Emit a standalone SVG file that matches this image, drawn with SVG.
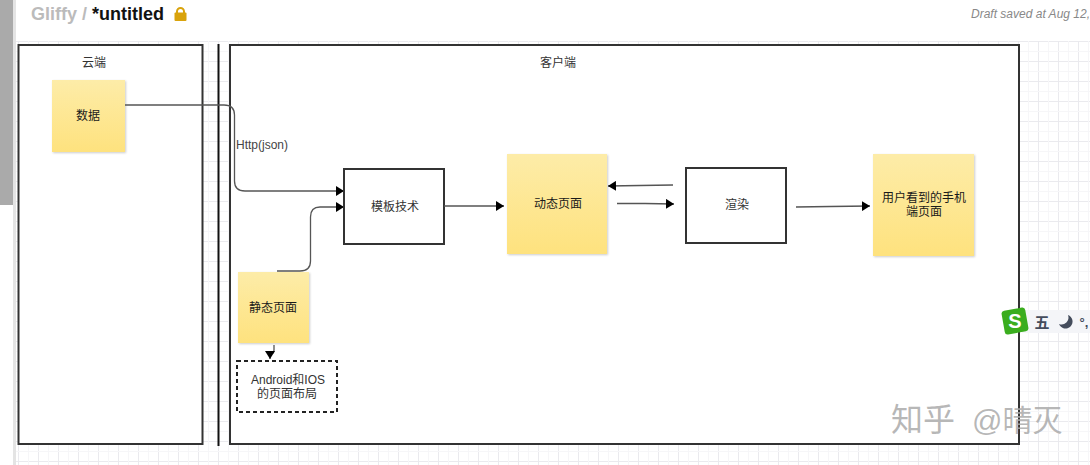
<svg xmlns="http://www.w3.org/2000/svg" width="1090" height="465" viewBox="0 0 1090 465">
<style>
text{font-family:"Liberation Sans","Noto Sans CJK SC",sans-serif;font-size:12px;fill:#333;text-anchor:middle}
.frame{fill:#fff;stroke:#333;stroke-width:2}
.note{fill:url(#noteFill);filter:url(#soft)}
.dark{fill:#1a1a1a}
.conn{fill:none;stroke:#555;stroke-width:1.3;marker-end:url(#arrow)}
</style>
<defs>
<pattern id="grid" width="20" height="20" patternUnits="userSpaceOnUse" x="-2" y="1">
<path d="M0 .5H20M.5 0V20" fill="none" stroke="#eaeaee" stroke-width="1"/>
<path d="M0 10.5H20M10.5 0V20" fill="none" stroke="#f6f6f8" stroke-width="1"/>
</pattern>
<linearGradient id="noteFill" x1="0" y1="0" x2="0" y2="1">
<stop offset="0" stop-color="#fdeca8"/><stop offset="1" stop-color="#fee27e"/>
</linearGradient>
<filter id="soft" x="-10%" y="-10%" width="120%" height="120%">
<feDropShadow dx="1" dy="1" stdDeviation="1" flood-color="#000" flood-opacity=".2"/>
</filter>
<marker id="arrow" markerUnits="userSpaceOnUse" markerWidth="9" markerHeight="10" refX="8" refY="5" orient="auto">
<path d="M0 0L8 5L0 10Z" fill="#000"/>
</marker>
</defs>

<rect width="1090" height="465" fill="#fff"/>
<rect x="16" y="41" width="1074" height="424" fill="url(#grid)"/>
<rect x="0" y="0" width="13" height="205" fill="#aaa"/>
<rect x="13" y="0" width="3" height="465" fill="#e4e4e4"/>

<g id="header">
<text x="31" y="20" style="font-size:18px;font-weight:700;fill:#bbb;text-anchor:start">Gliffy /</text>
<text x="92" y="20" style="font-size:18px;font-weight:700;fill:#111;text-anchor:start">*untitled</text>
<path d="M177 13V11.500a3.500 3.500 0 0 1 7 0V13" fill="none" stroke="#d9a30c" stroke-width="2"/>
<rect x="174.500" y="12.500" width="12" height="8.500" rx="1" fill="#d9a30c"/>
<text x="1090" y="18" style="font-size:12px;font-style:italic;fill:#888;text-anchor:end">Draft saved at Aug 12,</text>
</g>

<g id="cloud"><rect class="frame" x="18.500" y="45" width="184" height="399"/><text x="94" y="67">云端</text></g>
<g id="divider"><path d="M218.500 44V446" stroke="#111" stroke-width="2"/></g>
<g id="client"><rect class="frame" x="230" y="45" width="789" height="399"/><text x="558" y="67">客户端</text></g>

<g id="data"><rect class="note" x="52" y="80" width="73" height="72"/><text class="dark" x="88" y="120">数据</text></g>
<g id="template"><rect class="frame" x="344" y="169" width="100" height="75"/><text x="395" y="211">模板技术</text></g>
<g id="dynamic"><rect class="note" x="507" y="154" width="100" height="100"/><text class="dark" x="558" y="208">动态页面</text></g>
<g id="render"><rect class="frame" x="686" y="168" width="100" height="75"/><text x="737" y="209">渲染</text></g>
<g id="mobile"><rect class="note" x="873" y="154" width="101" height="102"/><text class="dark" x="924" y="202">用户看到的手机</text><text class="dark" x="924" y="216">端页面</text></g>
<g id="static"><rect class="note" x="238" y="272" width="71" height="71"/><text class="dark" x="273" y="312">静态页面</text></g>
<g id="layout"><rect x="237" y="361" width="100" height="51" fill="#fff" stroke="#222" stroke-width="2" stroke-dasharray="4 3"/><text x="288" y="384">Android和IOS</text><text x="287" y="398">的页面布局</text></g>

<g id="connectors">
<path class="conn" d="M125 105H224Q234.500 105 234.500 115V181Q234.500 191 245 191H344"/>
<path class="conn" d="M277 271H300Q310.500 271 310.500 261V217Q310.500 207 320 207H344"/>
<path class="conn" d="M274 345V350Q274 354 270 354V359"/>
<path class="conn" d="M444 206H504"/>
<path class="conn" d="M673 185L640 185.500L608 186"/>
<path class="conn" d="M617 203.500L645 203.500L674 204"/>
<path class="conn" d="M796 207L830 206.500L870 206"/>
</g>

<text x="236" y="149" style="font-size:12px;fill:#444;text-anchor:start">Http(json)</text>

<g id="ime">
<rect x="1022" y="310" width="68" height="23" fill="#f4f5f8"/>
<rect x="1003" y="309" width="24" height="24" rx="3" fill="#3aad1e" transform="rotate(-10 1015 321)"/>
<text x="1015" y="328" style="font-size:20px;font-weight:700;fill:#fff">S</text>
<text x="1042" y="328" style="font-size:15px;font-weight:700;fill:#444c5c">五</text>
<path d="M1068 315a7 7 0 1 1-9 9a7 7 0 0 0 9-9Z" fill="#444c5c"/>
<text x="1084" y="327" style="font-size:13px;font-weight:700;fill:#444c5c">°,</text>
</g>

<g id="watermark">
<text x="891" y="431" style="font-size:32px;fill:#aaa;fill-opacity:.85;text-anchor:start">知乎</text>
<text x="972" y="431" style="font-size:30px;fill:#aaa;fill-opacity:.85;text-anchor:start">@晴灭</text>
</g>
</svg>
